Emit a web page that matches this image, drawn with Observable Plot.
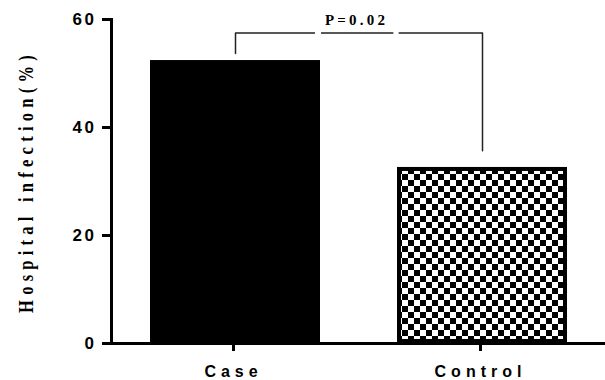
<!DOCTYPE html>
<html><head><meta charset="utf-8">
<script src="https://cdn.jsdelivr.net/npm/d3@7"></script>
<script src="https://cdn.jsdelivr.net/npm/@observablehq/plot@0.6"></script>
<style>
body{margin:0;background:#fff;}
#chart svg{display:block;}
g[aria-label="y-axis tick label"] text{letter-spacing:2.5px;}
g[aria-label="x-axis tick label"] text{letter-spacing:5px;}
.ytitle text{letter-spacing:7px;}
.plabel text{letter-spacing:3.2px;}
</style></head><body><div id="chart"></div>
<script>
// Data
const categories = ["Case", "Control"];
const values = [52.4, 32.6];
const yTicks = [0, 20, 40, 60];
const yTitle = "Hospital infection(%)";
const pText = "P=0.02";
// Significance bracket (data units)
const bracketLevel = 57.5;
const bracketEnds = [53.7, 35.7]; // lower ends of bracket legs for Case, Control

const data = categories.map((c, i) => ({cat: c, value: values[i]}));
const bracket = [
  {x: categories[0], y: bracketEnds[0]},
  {x: categories[0], y: bracketLevel},
  {x: categories[1], y: bracketLevel},
  {x: categories[1], y: bracketEnds[1]}
];

const sans = "Liberation Sans, Arial, sans-serif";
const serif = "Liberation Serif, Times New Roman, serif";

const svg = Plot.plot({
  width: 605,
  height: 380,
  marginLeft: 111,
  marginRight: 0,
  marginTop: 19,
  marginBottom: 37,
  style: {background: "#fff", color: "#000"},
  x: {domain: categories, paddingInner: 0.313, paddingOuter: 0.156},
  y: {domain: [0, 60]},
  marks: [
    Plot.barY(data.filter(d => d.cat === categories[0]), {x: "cat", y: "value", fill: "#000"}),
    Plot.barY(data.filter(d => d.cat === categories[1]), {x: "cat", y: "value", fill: "url(#checker)", stroke: "#000", strokeWidth: 4, inset: 2}),
    Plot.frame({anchor: "left", strokeWidth: 3}),
    Plot.frame({anchor: "bottom", strokeWidth: 3}),
    Plot.axisY({ticks: yTicks, tickSize: 9, tickPadding: 6, strokeWidth: 3, label: null,
      fontSize: 17, fontWeight: "bold", fontFamily: sans}),
    Plot.axisX({tickSize: 8, tickPadding: 14, strokeWidth: 3, label: null, dx: -2,
      fontSize: 16, fontWeight: "bold", fontFamily: sans}),
    Plot.line(bracket, {x: "x", y: "y", stroke: "#222", strokeWidth: 1.5}),
    Plot.dot([bracketLevel], {x: () => categories[0], y: d => d, dx: 82.5, symbol: "square", r: 3.4, fill: "#fff"}),
    Plot.dot([bracketLevel], {x: () => categories[0], y: d => d, dx: 160.5, symbol: "square", r: 3.0, fill: "#fff"}),
    Plot.text([pText], {x: () => categories[0], y: () => bracketLevel, dx: 121, dy: -13, text: d => d,
      fontSize: 15, fontWeight: "bold", fontFamily: serif, className: "plabel"}),
    Plot.text([yTitle], {frameAnchor: "left", dx: -86, rotate: -90, text: d => d, textAnchor: "middle", lineAnchor: "middle",
      fontSize: 22, fontWeight: "bold", fontFamily: serif, className: "ytitle"})
  ]
});

// checkerboard pattern
const defs = d3.select(svg).insert("defs", ":first-child");
const pat = defs.append("pattern").attr("id", "checker").attr("patternUnits", "userSpaceOnUse")
  .attr("width", 12).attr("height", 12);
pat.append("rect").attr("width", 12).attr("height", 12).attr("fill", "#fff");
pat.append("rect").attr("width", 6).attr("height", 6).attr("fill", "#000");
pat.append("rect").attr("x", 6).attr("y", 6).attr("width", 6).attr("height", 6).attr("fill", "#000");

// condense the serif y title
svg.querySelectorAll(".ytitle text").forEach(t => {
  t.setAttribute("transform", (t.getAttribute("transform") || "") + " scale(0.75,1)");
});

document.getElementById("chart").appendChild(svg);
</script>
</body></html>
